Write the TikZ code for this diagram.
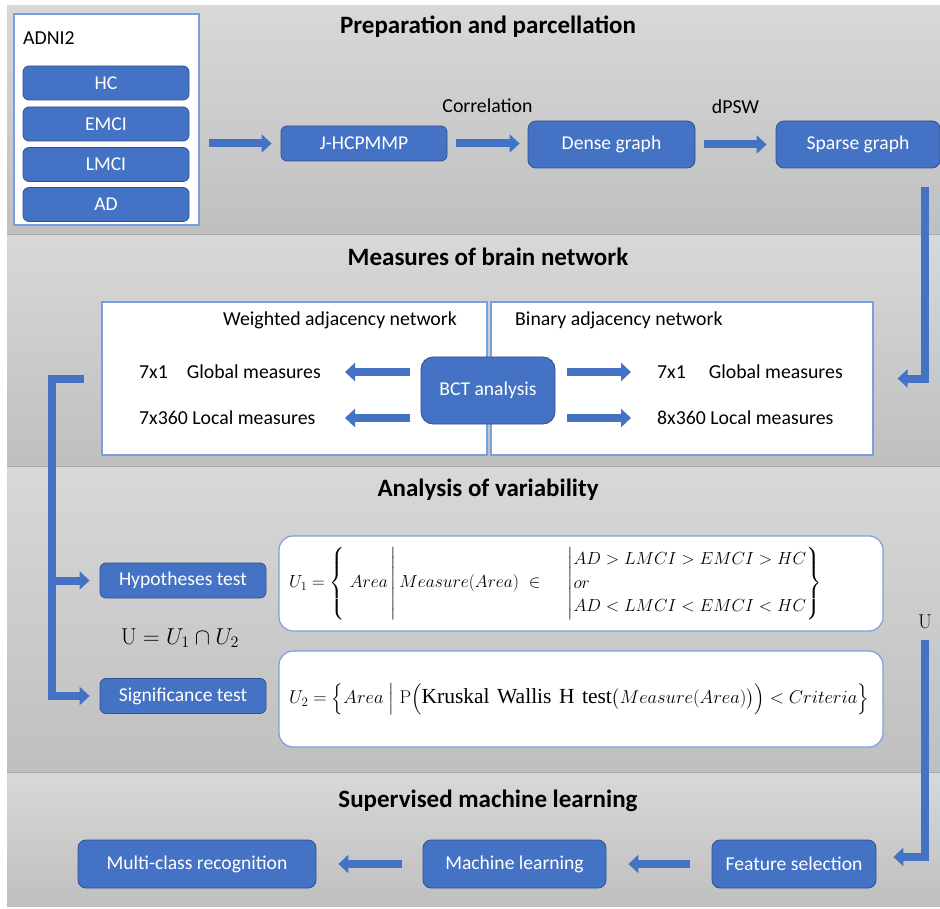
\RequirePackage{fix-cm}
\documentclass[tikz,border=0pt]{standalone}
\usepackage{amsmath}
\usepackage[no-math]{fontspec}
\setmainfont{Carlito}
\newfontfamily\kwfont{Liberation Serif}
\usetikzlibrary{arrows.meta,calc}
\definecolor{myblue}{HTML}{4472C4}
\definecolor{myblueline}{HTML}{2F528F}
\definecolor{thinline}{HTML}{7A9FDF}
\definecolor{bandtop}{HTML}{D8D8D8}
\definecolor{bandbot}{HTML}{BFBFBF}
\definecolor{bandsep}{HTML}{A8A8A8}
\begin{document}
\begin{tikzpicture}[x=1pt,y=-1pt,
  bluebox/.style={rectangle, rounded corners=6pt, fill=myblue, draw=myblueline, line width=0.8pt, text=white, font=\fontsize{19.6}{23}\selectfont, inner sep=0pt},
  whitebox/.style={rectangle, fill=white, draw=thinline, line width=1.2pt, inner sep=0pt},
  formbox/.style={whitebox, rounded corners=14pt},
  titletext/.style={font=\fontsize{25}{29}\selectfont\bfseries, inner sep=0pt},
  plain/.style={font=\fontsize{19.8}{23}\selectfont, inner sep=0pt},
  blockarrow/.style={draw=myblue, line width=8pt, -{Triangle[length=10pt,width=18pt]}, line join=miter},
  mathtext/.style={font=\fontsize{17.5}{21}\selectfont, inner sep=0pt},
]
\useasboundingbox (0,0) rectangle (940,909);
\fill[white] (0,0) rectangle (940,909);
% bands
\foreach \a/\b in {6/235,235/466,466/772,772/906}{
  \shade[top color=bandtop,bottom color=bandbot] (7,\a) rectangle (940,\b);
}
\foreach \a in {235,466,772}{
  \draw[bandsep, line width=1pt] (7,\a) -- (940,\a);
}
% titles
\node[titletext] (t1) at (488,27) {Preparation and parcellation};
\node[titletext] (t2) at (488,257) {Measures of brain network};
\node[titletext] (t3) at (488,490) {Analysis of variability};
\node[titletext] (t4) at (488,801) {Supervised machine learning};

% ---- band 1
\node[whitebox, minimum width=185pt, minimum height=211pt] (adni) at (106.5,119.5) {};
\node[plain, anchor=west] (adnilbl) at (23,38) {ADNI2};
\node[bluebox, minimum width=166pt, minimum height=34pt] (hc) at (106,83) {HC};
\node[bluebox, minimum width=166pt, minimum height=34pt] (emci) at (106,124) {EMCI};
\node[bluebox, minimum width=166pt, minimum height=34pt] (lmci) at (106,164.5) {LMCI};
\node[bluebox, minimum width=166pt, minimum height=34pt] (ad) at (106,204.5) {AD};

\node[bluebox, minimum width=166pt, minimum height=35pt] (jh) at (364,143.5) {J-HCPMMP};
\node[bluebox, minimum width=167pt, minimum height=47pt, rounded corners=8pt] (dense) at (611.5,144.5) {Dense graph};
\node[bluebox, minimum width=164pt, minimum height=47pt, rounded corners=8pt] (sparse) at (858,144.5) {Sparse graph};

\draw[blockarrow, shorten <=9pt, shorten >=9pt] (adni.east |- jh.west) -- (jh.west);
\draw[blockarrow, shorten <=9pt, shorten >=8pt] (jh.east) -- (jh.east -| dense.west)
  node[midway, yshift=38pt, plain, text=black] (corr) {Correlation};
\draw[blockarrow, shorten <=9pt, shorten >=9pt] (dense.east) -- (sparse.west)
  node[midway, yshift=38pt, plain, text=black] (dpsw) {dPSW};

% ---- band 2
\node[whitebox, minimum width=385pt, minimum height=153pt] (wt) at (294.5,378.5) {};
\node[whitebox, minimum width=382pt, minimum height=153pt] (bin) at (682,378.5) {};
\node[plain] (wtitle) at (340,320) {Weighted adjacency network};
\node[plain, anchor=west] (btitle) at (515,320) {Binary adjacency network};
\node[bluebox, minimum width=134pt, minimum height=67pt, rounded corners=12pt] (bct) at (488,390.5) {BCT analysis};

\node[plain, anchor=west] (wg) at (139,372) {7x1\hspace{19pt}Global measures};
\node[plain, anchor=west] (wl) at (139,418) {7x360 Local measures};
\node[plain, anchor=west] (bg) at (657,372) {7x1\hspace{23pt}Global measures};
\node[plain, anchor=west] (bl) at (657,418) {8x360 Local measures};

\coordinate (wgtip) at (345,372);
\coordinate (wltip) at (345,418);
\coordinate (bgtip) at (631,372);
\coordinate (bltip) at (631,418);
\draw[blockarrow, shorten <=11pt] (bct.west |- wgtip) -- (wgtip);
\draw[blockarrow, shorten <=11pt] (bct.west |- wltip) -- (wltip);
\draw[blockarrow, shorten <=12pt] (bct.east |- bgtip) -- (bgtip);
\draw[blockarrow, shorten <=12pt] (bct.east |- bltip) -- (bltip);

% sparse -> binary (bent)
\coordinate (spout) at ($(sparse.south east)+(-15,19)$);
\draw[blockarrow, shorten >=24pt] (spout) |- (bin.east);

% ---- band 3
\node[bluebox, minimum width=166pt, minimum height=35pt] (hyp) at (183,580.5) {Hypotheses test};
\node[bluebox, minimum width=166pt, minimum height=35pt] (sig) at (183,696) {Significance test};
\node[mathtext, font=\fontsize{23}{27}\selectfont] (ueq) at (180,638) {$\mathrm{U} = U_1 \cap U_2$};

\node[formbox, minimum width=604pt, minimum height=95pt] (u1box) at (581,583.5) {};
\node[formbox, minimum width=604pt, minimum height=96pt] (u2box) at (581,699) {};
\node[mathtext, anchor=west] (f1) at (289,583.5) {$U_1 = \left\{\; Area\, \middle| \,Measure(Area) \;\in \;\;\quad \middle|
  \renewcommand{\arraystretch}{1.12}\begin{array}{@{}l@{}} AD > LMCI > EMCI > HC \\ or \\ AD < LMCI < EMCI < HC \end{array} \right\}$};
\node[mathtext, font=\fontsize{18.5}{22}\selectfont, anchor=west] (f2) at (289,699) {$U_2 = \Bigl\{ Area \Bigm| \mathrm{P}\Bigl(\text{\kwfont\fontsize{21.5}{25}\selectfont Kruskal\hspace{7.5pt}Wallis\hspace{7.5pt}H\hspace{7.5pt}test}\bigl(Measure(Area)\bigr)\Bigr) < Criteria \Bigr\}$};

\coordinate (lx) at (52,0);
\draw[blockarrow, shorten <=17pt, shorten >=10pt] (wt.west) -- (wt.west -| lx) |- (sig.west);
\draw[blockarrow, shorten >=10pt] (lx |- hyp.west) -- (hyp.west);

\node[mathtext, font=\fontsize{20}{24}\selectfont] (ulbl) at (925,622) {$\mathrm{U}$};

% ---- band 4
\node[bluebox, minimum width=238pt, minimum height=48pt, rounded corners=8pt] (multi) at (197,864) {Multi-class recognition};
\node[bluebox, minimum width=183pt, minimum height=48pt, rounded corners=8pt] (ml) at (514.5,864) {Machine learning};
\node[bluebox, minimum width=164pt, minimum height=48pt, rounded corners=8pt] (feat) at (794,864) {Feature selection};

\draw[blockarrow, shorten <=22pt, shorten >=22pt] (feat.west) -- (ml.east);
\draw[blockarrow, shorten <=21pt, shorten >=22pt] (ml.west) -- (multi.east);
\draw[blockarrow, shorten <=11pt, shorten >=17pt] (ulbl.south) |- ($(feat.east)+(0,-7)$);
\end{tikzpicture}
\end{document}
